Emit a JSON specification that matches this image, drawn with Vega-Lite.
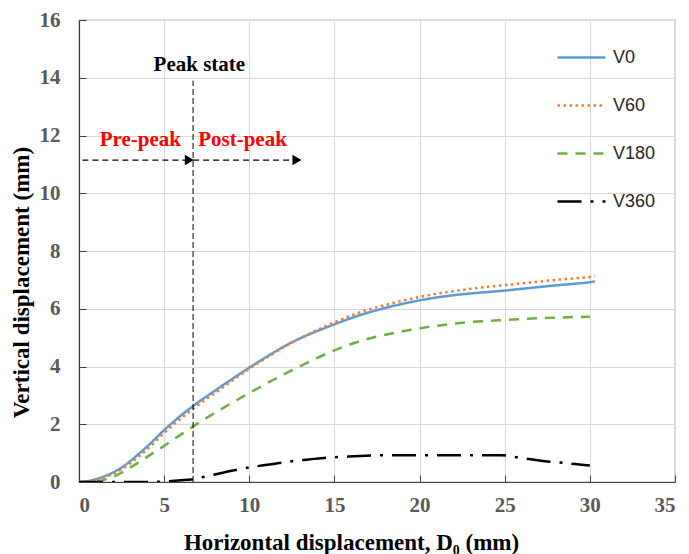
{
  "$schema": "https://vega.github.io/schema/vega-lite/v6.json",
  "width": 596,
  "height": 462,
  "autosize": {"type": "none"},
  "padding": {"left": 79, "top": 20, "right": 14, "bottom": 72},
  "background": "white",
  "config": {
    "view": {"stroke": "#808080", "strokeWidth": 1.2},
    "axis": {
      "grid": true,
      "gridColor": "#d9d9d9",
      "gridWidth": 1,
      "domainColor": "#404040",
      "domainWidth": 1.2,
      "tickColor": "#404040",
      "tickSize": -7,
      "labelFont": "Liberation Serif",
      "labelFontWeight": "bold",
      "labelFontSize": 21,
      "labelColor": "#595959",
      "titleFont": "Liberation Serif",
      "titleFontWeight": "bold",
      "titleColor": "#000000"
    }
  },
  "datasets": {
    "curves": [
      {"s": "V0", "x": 0, "y": 0}, {"s": "V0", "x": 0.5, "y": 0.03}, {"s": "V0", "x": 1, "y": 0.1}, {"s": "V0", "x": 1.5, "y": 0.2},
      {"s": "V0", "x": 2, "y": 0.33}, {"s": "V0", "x": 2.5, "y": 0.5}, {"s": "V0", "x": 3, "y": 0.72}, {"s": "V0", "x": 3.5, "y": 0.97},
      {"s": "V0", "x": 4, "y": 1.23}, {"s": "V0", "x": 4.5, "y": 1.51}, {"s": "V0", "x": 5, "y": 1.8}, {"s": "V0", "x": 5.5, "y": 2.06},
      {"s": "V0", "x": 6, "y": 2.31}, {"s": "V0", "x": 6.5, "y": 2.54}, {"s": "V0", "x": 7, "y": 2.76},
      {"s": "V0", "x": 8, "y": 3.17}, {"s": "V0", "x": 9, "y": 3.57}, {"s": "V0", "x": 10, "y": 3.96}, {"s": "V0", "x": 11, "y": 4.33},
      {"s": "V0", "x": 12, "y": 4.68}, {"s": "V0", "x": 13, "y": 4.98}, {"s": "V0", "x": 14, "y": 5.23}, {"s": "V0", "x": 15, "y": 5.46},
      {"s": "V0", "x": 16, "y": 5.68}, {"s": "V0", "x": 17, "y": 5.87}, {"s": "V0", "x": 18, "y": 6.03}, {"s": "V0", "x": 19, "y": 6.17},
      {"s": "V0", "x": 20, "y": 6.29}, {"s": "V0", "x": 21, "y": 6.39}, {"s": "V0", "x": 22, "y": 6.47}, {"s": "V0", "x": 23, "y": 6.53},
      {"s": "V0", "x": 24, "y": 6.58}, {"s": "V0", "x": 25, "y": 6.63}, {"s": "V0", "x": 26, "y": 6.69}, {"s": "V0", "x": 27, "y": 6.75},
      {"s": "V0", "x": 28, "y": 6.81}, {"s": "V0", "x": 29, "y": 6.86}, {"s": "V0", "x": 30, "y": 6.92}, {"s": "V0", "x": 30.3, "y": 6.95},

      {"s": "V60", "x": 0, "y": 0}, {"s": "V60", "x": 0.5, "y": 0.02}, {"s": "V60", "x": 1, "y": 0.07}, {"s": "V60", "x": 1.5, "y": 0.16},
      {"s": "V60", "x": 2, "y": 0.28}, {"s": "V60", "x": 2.5, "y": 0.44}, {"s": "V60", "x": 3, "y": 0.64}, {"s": "V60", "x": 3.5, "y": 0.88},
      {"s": "V60", "x": 4, "y": 1.13}, {"s": "V60", "x": 4.5, "y": 1.41}, {"s": "V60", "x": 5, "y": 1.7}, {"s": "V60", "x": 5.5, "y": 1.96},
      {"s": "V60", "x": 6, "y": 2.21}, {"s": "V60", "x": 6.5, "y": 2.44}, {"s": "V60", "x": 7, "y": 2.67},
      {"s": "V60", "x": 8, "y": 3.09}, {"s": "V60", "x": 9, "y": 3.51}, {"s": "V60", "x": 10, "y": 3.92}, {"s": "V60", "x": 11, "y": 4.3},
      {"s": "V60", "x": 12, "y": 4.66}, {"s": "V60", "x": 13, "y": 4.98}, {"s": "V60", "x": 14, "y": 5.27}, {"s": "V60", "x": 15, "y": 5.53},
      {"s": "V60", "x": 16, "y": 5.77}, {"s": "V60", "x": 17, "y": 5.97}, {"s": "V60", "x": 18, "y": 6.13}, {"s": "V60", "x": 19, "y": 6.28},
      {"s": "V60", "x": 20, "y": 6.41}, {"s": "V60", "x": 21, "y": 6.52}, {"s": "V60", "x": 22, "y": 6.61}, {"s": "V60", "x": 23, "y": 6.69},
      {"s": "V60", "x": 24, "y": 6.76}, {"s": "V60", "x": 25, "y": 6.82}, {"s": "V60", "x": 26, "y": 6.88}, {"s": "V60", "x": 27, "y": 6.94},
      {"s": "V60", "x": 28, "y": 7.0}, {"s": "V60", "x": 29, "y": 7.05}, {"s": "V60", "x": 30, "y": 7.1}, {"s": "V60", "x": 30.3, "y": 7.12},

      {"s": "V180", "x": 0, "y": 0}, {"s": "V180", "x": 0.5, "y": 0.0}, {"s": "V180", "x": 1, "y": 0.02}, {"s": "V180", "x": 1.5, "y": 0.08},
      {"s": "V180", "x": 2, "y": 0.18}, {"s": "V180", "x": 2.5, "y": 0.32}, {"s": "V180", "x": 3, "y": 0.5}, {"s": "V180", "x": 3.5, "y": 0.68},
      {"s": "V180", "x": 4, "y": 0.87}, {"s": "V180", "x": 4.5, "y": 1.06}, {"s": "V180", "x": 5, "y": 1.25}, {"s": "V180", "x": 5.5, "y": 1.45},
      {"s": "V180", "x": 6, "y": 1.65}, {"s": "V180", "x": 6.5, "y": 1.85}, {"s": "V180", "x": 7, "y": 2.04}, {"s": "V180", "x": 8, "y": 2.4},
      {"s": "V180", "x": 9, "y": 2.75}, {"s": "V180", "x": 10, "y": 3.08}, {"s": "V180", "x": 11, "y": 3.41}, {"s": "V180", "x": 12, "y": 3.72},
      {"s": "V180", "x": 13, "y": 4.01}, {"s": "V180", "x": 14, "y": 4.3}, {"s": "V180", "x": 15, "y": 4.56}, {"s": "V180", "x": 16, "y": 4.78},
      {"s": "V180", "x": 17, "y": 4.96}, {"s": "V180", "x": 18, "y": 5.1}, {"s": "V180", "x": 19, "y": 5.22}, {"s": "V180", "x": 20, "y": 5.32},
      {"s": "V180", "x": 21, "y": 5.41}, {"s": "V180", "x": 22, "y": 5.48}, {"s": "V180", "x": 23, "y": 5.54}, {"s": "V180", "x": 24, "y": 5.58},
      {"s": "V180", "x": 25, "y": 5.61}, {"s": "V180", "x": 26, "y": 5.64}, {"s": "V180", "x": 27, "y": 5.67}, {"s": "V180", "x": 28, "y": 5.69},
      {"s": "V180", "x": 29, "y": 5.71}, {"s": "V180", "x": 30, "y": 5.72},

      {"s": "V360", "x": 0, "y": 0}, {"s": "V360", "x": 1, "y": 0}, {"s": "V360", "x": 2, "y": 0}, {"s": "V360", "x": 3, "y": 0},
      {"s": "V360", "x": 4, "y": 0}, {"s": "V360", "x": 5, "y": 0.02}, {"s": "V360", "x": 6, "y": 0.06}, {"s": "V360", "x": 6.6, "y": 0.09},
      {"s": "V360", "x": 7.5, "y": 0.2}, {"s": "V360", "x": 8.5, "y": 0.33}, {"s": "V360", "x": 9.5, "y": 0.45}, {"s": "V360", "x": 10.5, "y": 0.55},
      {"s": "V360", "x": 11.5, "y": 0.63}, {"s": "V360", "x": 12.5, "y": 0.72}, {"s": "V360", "x": 13.5, "y": 0.78}, {"s": "V360", "x": 14.5, "y": 0.84},
      {"s": "V360", "x": 15.5, "y": 0.87}, {"s": "V360", "x": 16.5, "y": 0.9}, {"s": "V360", "x": 17.5, "y": 0.92}, {"s": "V360", "x": 19, "y": 0.93},
      {"s": "V360", "x": 21, "y": 0.93}, {"s": "V360", "x": 23, "y": 0.93}, {"s": "V360", "x": 24.8, "y": 0.93}, {"s": "V360", "x": 25.5, "y": 0.87},
      {"s": "V360", "x": 26.5, "y": 0.79}, {"s": "V360", "x": 27.5, "y": 0.71}, {"s": "V360", "x": 28.5, "y": 0.66}, {"s": "V360", "x": 29.5, "y": 0.6},
      {"s": "V360", "x": 30, "y": 0.57}
    ],
    "peakline": [{"x": 6.7, "y": 0, "y2": 13.9}],
    "arrows": [{"x": 0.2, "x2": 6.5, "y": 11.15}, {"x": 6.7, "x2": 12.8, "y": 11.15}],
    "heads": [{"x": 6.48, "y": 11.15}, {"x": 12.8, "y": 11.15}],
    "labels": [
      {"x": 3.6, "y": 11.85, "t": "Pre-peak"},
      {"x": 9.6, "y": 11.85, "t": "Post-peak"}
    ],
    "peaklabel": [{"x": 7.07, "y": 14.45, "t": "Peak state"}]
  },
  "layer": [
    {
      "data": {"name": "curves"},
      "mark": {"type": "line", "strokeWidth": 2.5, "interpolate": "monotone", "clip": true},
      "encoding": {
        "x": {
          "field": "x", "type": "quantitative",
          "scale": {"domain": [0, 35], "nice": false},
          "axis": {"values": [0, 5, 10, 15, 20, 25, 30, 35], "title": "Horizontal  displacement, D₀ (mm)", "titleFontSize": 23, "labelPadding": 19, "titlePadding": 16, "titleX": 272}
        },
        "y": {
          "field": "y", "type": "quantitative",
          "scale": {"domain": [0, 16], "nice": false},
          "axis": {"values": [0, 2, 4, 6, 8, 10, 12, 14, 16], "title": "Vertical displacement (mm)", "titleFontSize": 23, "labelPadding": 26, "titlePadding": 6, "titleY": 262}
        },
        "color": {
          "field": "s", "type": "nominal",
          "scale": {"domain": ["V0", "V60", "V180", "V360"], "range": ["#5B9BD5", "#ED7D31", "#70AD47", "#000000"]},
          "legend": {
            "title": null, "orient": "none", "legendX": 477, "legendY": 12,
            "symbolType": "stroke", "symbolSize": 2304, "symbolStrokeWidth": 2.5,
            "rowPadding": 13, "labelOffset": 6,
            "labelFont": "Liberation Sans", "labelFontSize": 18, "labelColor": "#262626"
          }
        },
        "strokeDash": {
          "field": "s", "type": "nominal",
          "scale": {"domain": ["V0", "V60", "V180", "V360"], "range": [[1, 0], [2.5, 3.5], [10, 8], [24, 9, 3, 9]]}
        }
      }
    },
    {
      "data": {"name": "peakline"},
      "mark": {"type": "rule", "color": "black", "strokeWidth": 1, "strokeDash": [6, 3]},
      "encoding": {
        "x": {"field": "x", "type": "quantitative"},
        "y": {"field": "y", "type": "quantitative"},
        "y2": {"field": "y2"}
      }
    },
    {
      "data": {"name": "arrows"},
      "mark": {"type": "rule", "color": "black", "strokeWidth": 1.2, "strokeDash": [6, 4]},
      "encoding": {
        "x": {"field": "x", "type": "quantitative"},
        "x2": {"field": "x2"},
        "y": {"field": "y", "type": "quantitative"}
      }
    },
    {
      "data": {"name": "heads"},
      "mark": {"type": "point", "shape": "triangle-right", "filled": true, "color": "black", "size": 110, "opacity": 1},
      "encoding": {
        "x": {"field": "x", "type": "quantitative"},
        "y": {"field": "y", "type": "quantitative"}
      }
    },
    {
      "data": {"name": "labels"},
      "mark": {"type": "text", "font": "Liberation Serif", "fontWeight": "bold", "fontSize": 21, "color": "#FF0000"},
      "encoding": {
        "x": {"field": "x", "type": "quantitative"},
        "y": {"field": "y", "type": "quantitative"},
        "text": {"field": "t"}
      }
    },
    {
      "data": {"name": "peaklabel"},
      "mark": {"type": "text", "font": "Liberation Serif", "fontWeight": "bold", "fontSize": 21, "color": "#000000"},
      "encoding": {
        "x": {"field": "x", "type": "quantitative"},
        "y": {"field": "y", "type": "quantitative"},
        "text": {"field": "t"}
      }
    }
  ]
}
